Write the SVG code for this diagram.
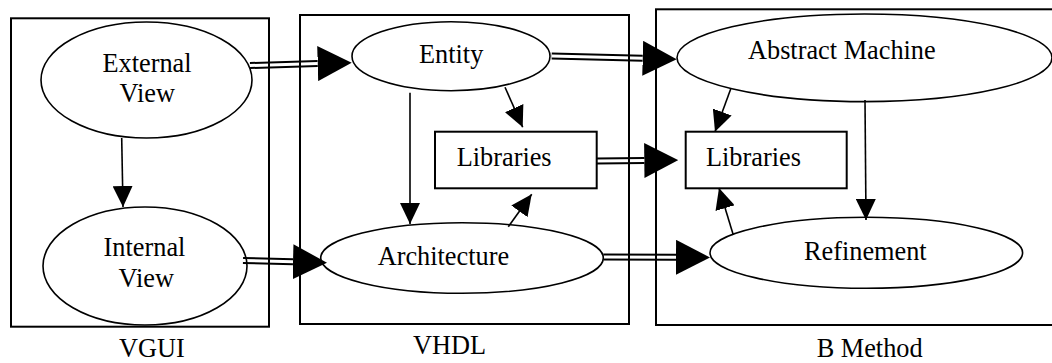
<svg xmlns="http://www.w3.org/2000/svg" width="1052" height="363" viewBox="0 0 1052 363">
<style>
  text { font-family: "Liberation Serif", "Times New Roman", serif; font-size: 26.3px; fill: #000; }
  .box { fill: none; stroke: #000; stroke-width: 2; }
  .node { fill: none; stroke: #000; stroke-width: 1.6; }
  .single { fill: none; stroke: #000; stroke-width: 1.6; marker-end: url(#arrowS); }
  .dblOuter { fill: none; stroke: #000; stroke-width: 7; marker-end: url(#arrowD); }
  .dblInner { fill: none; stroke: #fff; stroke-width: 3; }
</style>
<defs>
  <marker id="arrowS" markerUnits="userSpaceOnUse" markerWidth="21" markerHeight="20" viewBox="0 0 21 20" refX="21" refY="10" orient="auto">
    <path d="M0,0 L21,10 L0,20 z" fill="#000"/>
  </marker>
  <marker id="arrowD" markerUnits="userSpaceOnUse" markerWidth="34" markerHeight="35" viewBox="0 0 34 35" refX="0" refY="17.5" orient="auto">
    <path d="M0,0 L34,17.5 L0,35 z" fill="#000"/>
  </marker>
</defs>
<rect width="1052" height="363" fill="#fff"/>

<g id="connectors">
  <path class="dblOuter" d="M250,65.5 L317.7,63.6"/>
  <path class="dblInner" d="M250,65.5 L317.7,63.6"/>
  <path class="dblOuter" d="M243,260.5 L293,261.8"/>
  <path class="dblInner" d="M243,260.5 L293,261.8"/>
  <path class="dblOuter" d="M551.7,56 L642.7,58.3"/>
  <path class="dblInner" d="M551.7,56 L642.7,58.3"/>
  <path class="dblOuter" d="M596.7,161 L644.3,160.5"/>
  <path class="dblInner" d="M596.7,161 L644.3,160.5"/>
  <path class="dblOuter" d="M603.3,257 L676,257.3"/>
  <path class="dblInner" d="M603.3,257 L676,257.3"/>

  <path class="single" d="M121.7,138 L123,207"/>
  <path class="single" d="M410,92.7 L410,224"/>
  <path class="single" d="M505,87.3 L522.7,127.3"/>
  <path class="single" d="M508.3,226.7 L531.7,194.3"/>
  <path class="single" d="M730.7,89 L715,131.7"/>
  <path class="single" d="M865,100 L866,220"/>
  <path class="single" d="M733.3,235 L719,188"/>
</g>

<g id="vgui">
  <rect class="box" x="11" y="18.3" width="258" height="308.4"/>
  <text x="119" y="357.3">VGUI</text>
</g>
<g id="vhdl">
  <rect class="box" x="300" y="15" width="329" height="309"/>
  <text x="413" y="354">VHDL</text>
</g>
<g id="bmethod">
  <rect class="box" x="656" y="9.3" width="410" height="315.7"/>
  <text x="816.7" y="357.3">B Method</text>
</g>

<g id="external-view">
  <ellipse class="node" cx="146.5" cy="80" rx="105.5" ry="58"/>
  <text x="147" y="72.3" text-anchor="middle">External</text>
  <text x="147.3" y="101.7" text-anchor="middle">View</text>
</g>
<g id="internal-view">
  <ellipse class="node" cx="145" cy="266" rx="102" ry="59"/>
  <text x="144.5" y="256" text-anchor="middle">Internal</text>
  <text x="146.2" y="286.7" text-anchor="middle">View</text>
</g>
<g id="entity">
  <ellipse class="node" cx="451" cy="56.2" rx="99" ry="34.5"/>
  <text x="419" y="63.3">Entity</text>
</g>
<g id="libraries-vhdl">
  <rect class="box" x="435" y="131.7" width="161.7" height="56.6"/>
  <text x="456.7" y="165.7">Libraries</text>
</g>
<g id="architecture">
  <ellipse class="node" cx="462" cy="258" rx="141.3" ry="35.3"/>
  <text x="377.7" y="265">Architecture</text>
</g>
<g id="abstract-machine">
  <ellipse class="node" cx="864.5" cy="57.8" rx="187.5" ry="43.8"/>
  <text x="748" y="59.3">Abstract Machine</text>
</g>
<g id="libraries-b">
  <rect class="box" x="685.7" y="131.7" width="161" height="56.6"/>
  <text x="706" y="165.7">Libraries</text>
</g>
<g id="refinement">
  <ellipse class="node" cx="866.3" cy="252.8" rx="156.3" ry="35.5"/>
  <text x="804" y="259.5">Refinement</text>
</g>
</svg>
